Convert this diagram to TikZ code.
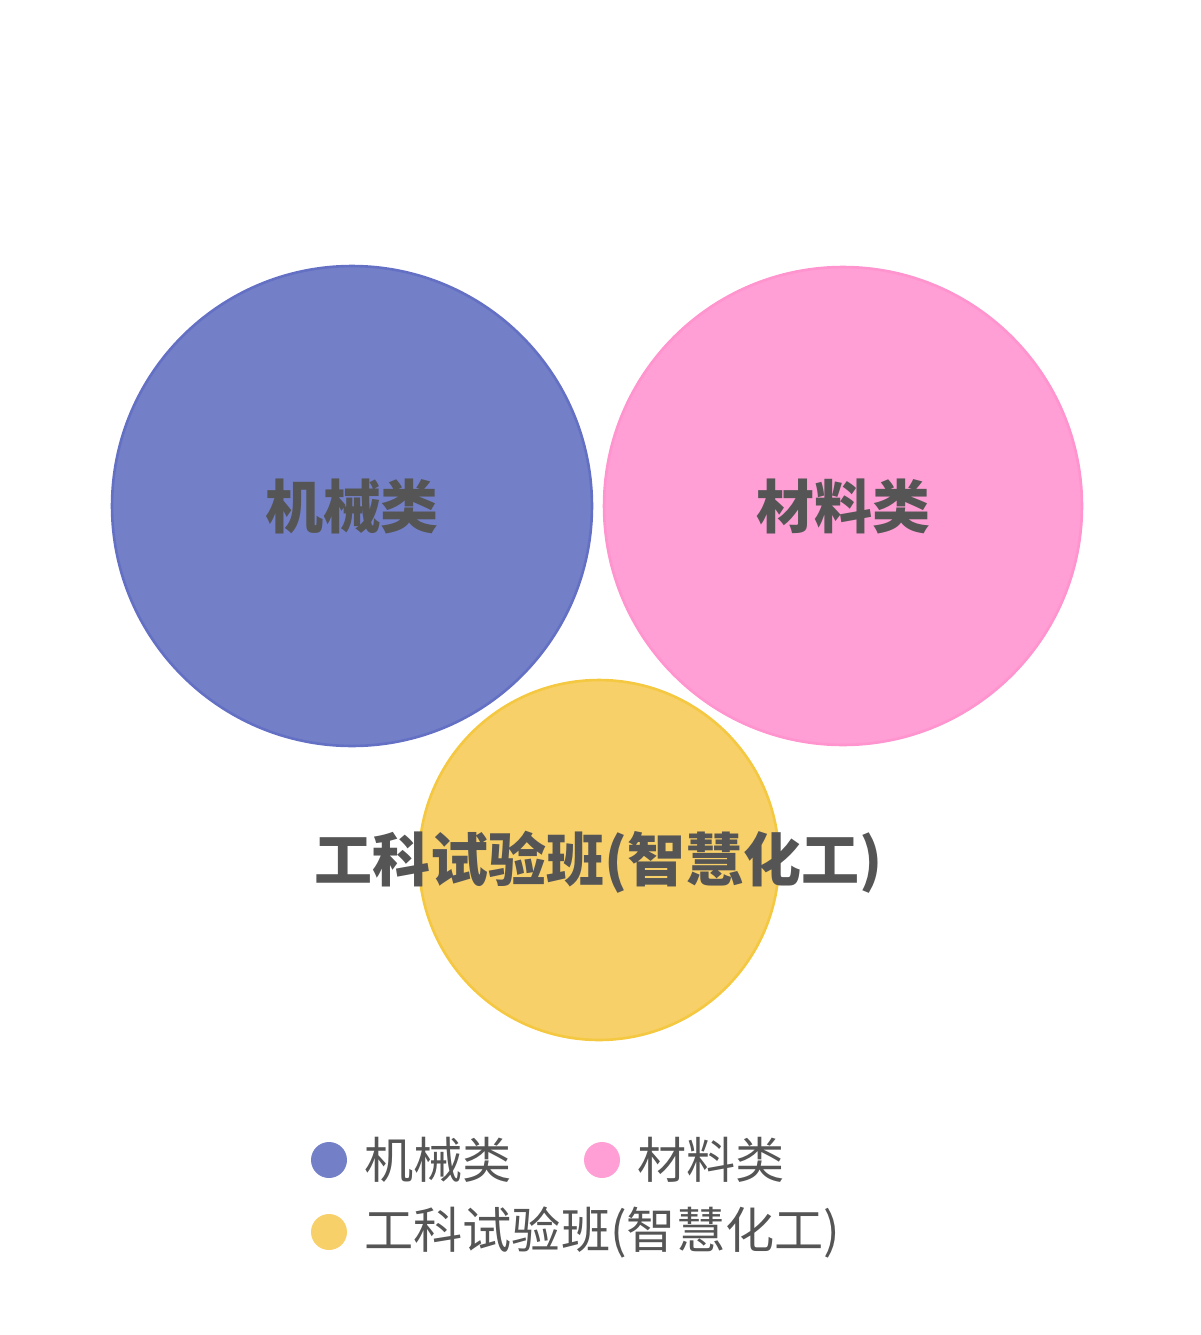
\documentclass[tikz,border=0pt]{standalone}
\usepackage{fontspec}
\newfontfamily\cjk{Noto Sans CJK SC}
\definecolor{jxblue}{HTML}{7380C7}
\definecolor{jxblueline}{HTML}{6470C4}
\definecolor{clpink}{HTML}{FF9FD5}
\definecolor{clpinkline}{HTML}{FF94CF}
\definecolor{gkyellow}{HTML}{F8D06A}
\definecolor{gkyellowline}{HTML}{F5C842}
\definecolor{txtgray}{HTML}{555555}
\begin{document}
\begin{tikzpicture}[x=0.02cm,y=-0.02cm,semithick,
  setcircle/.style={circle, draw, line width=1.5pt, inner sep=0pt},
  setlabel/.style={text=txtgray, font=\cjk\bfseries\fontsize{33}{36}\selectfont},
  legenddot/.style={circle, inner sep=0pt, minimum size=0.72cm},
  legendtext/.style={anchor=west, text=txtgray, font=\cjk\fontsize{28}{32}\selectfont}]
\useasboundingbox (0,0) rectangle (1200,1335);
\node[setcircle, fill=jxblue, draw=jxblueline, minimum size=9.6cm] (jx) at (352,506) {};
\node[setcircle, fill=clpink, draw=clpinkline, minimum size=9.56cm] (cl) at (843,506) {};
\node[setcircle, fill=gkyellow, draw=gkyellowline, minimum size=7.2cm] (gk) at (599,860) {};
\node[setlabel] (jxlabel) at (352,506) {机械类};
\node[setlabel] (cllabel) at (843,506) {材料类};
\node[setlabel] (gklabel) at (599,862) {工科试验班(智慧化工)};
% legend
\node[legenddot, fill=jxblue] (jxdot) at (329,1160) {};
\node[legendtext] (jxtext) at (358,1160) {机械类};
\node[legenddot, fill=clpink] (cldot) at (602,1160) {};
\node[legendtext] (cltext) at (631,1160) {材料类};
\node[legenddot, fill=gkyellow] (gkdot) at (329,1232) {};
\node[legendtext] (gktext) at (358,1232) {工科试验班(智慧化工)};
\end{tikzpicture}
\end{document}
